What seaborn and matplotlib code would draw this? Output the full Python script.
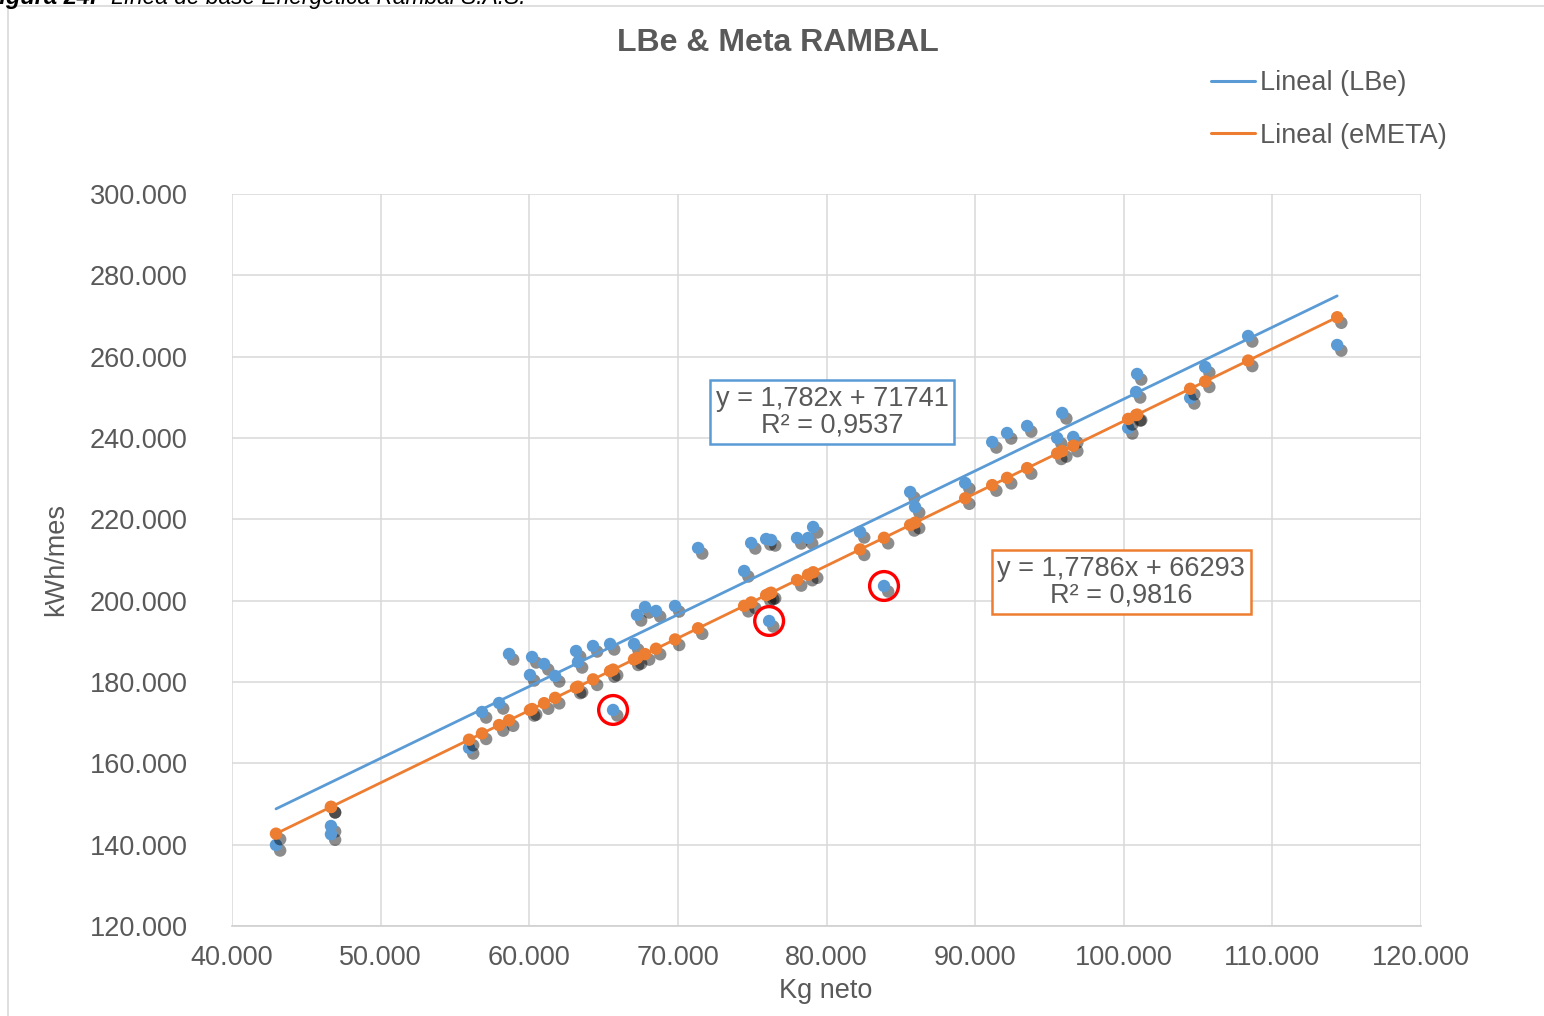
import numpy as np
import pandas as pd
import seaborn as sns
import matplotlib.pyplot as plt
import matplotlib.patheffects as pe
from matplotlib.lines import Line2D
from matplotlib.patches import Rectangle
from matplotlib.ticker import FuncFormatter, MultipleLocator

# Kg neto per month (same x for LBe and eMETA)
kg_neto = [42960, 46660, 46660, 55950, 56820, 57970, 58640, 60050, 60190, 61000,
           61740, 63150, 63280, 64290, 65440, 65640, 67050, 67250, 67790, 68530,
           69810, 71360, 74460, 74930, 75940, 76270, 76140, 78020, 78760, 79100,
           82260, 83870, 85630, 85960, 89330, 91150, 92150, 93500, 95520, 95860,
           96600, 100300, 100830, 100900, 104470, 105480, 108370, 114360]

# measured consumption (LBe)
kwh_lbe = [139920, 144590, 142560, 163770, 172620, 174830, 186890, 181720, 186150, 184430,
           181480, 187620, 184920, 188850, 189350, 173120, 189350, 196480, 198440, 197460,
           198690, 212950, 207300, 214180, 215160, 214920, 195000, 215410, 215410, 218120,
           216890, 203610, 226720, 223030, 228930, 239010, 241230, 242950, 240000, 246150,
           240250, 242460, 251310, 255740, 249840, 257460, 265080, 262870]

# target consumption (eMETA)
kwh_meta = [142700, 149280, 149280, 165810, 167350, 169400, 170590, 173100, 173350, 174790,
            176100, 178610, 178840, 180640, 182680, 183040, 185550, 185900, 186860, 188180,
            190460, 193210, 198730, 199560, 201360, 201950, 201720, 205060, 206380, 206980,
            212600, 215460, 218600, 219180, 225180, 228410, 230190, 232590, 236190, 236790,
            238110, 244690, 245630, 245750, 252100, 253900, 259040, 269690]

# highlighted points
circ_x = [65640, 76140, 83870]
circ_y = [173120, 195000, 203610]

eq_lbe = "y = 1,782x + 71741\nR² = 0,9537"
eq_meta = "y = 1,7786x + 66293\nR² = 0,9816"

BLUE = "#5b9bd5"
ORANGE = "#ed7d31"
GREY = "#595959"
FS = 19.5

df = pd.DataFrame({"kg": kg_neto, "lbe": kwh_lbe, "meta": kwh_meta})

sns.set_style("white")
plt.rcParams["font.family"] = ["Liberation Sans", "DejaVu Sans"]

fig = plt.figure(figsize=(15.44, 10.16), dpi=100)
ax = fig.add_axes([232 / 1544, 1 - 926 / 1016, 1189 / 1544, 732 / 1016])

# chart frame + cut caption
fig.patches.append(Rectangle((8 / 1544, -0.05), 1.1, 1 - 6 / 1016 + 0.05, transform=fig.transFigure,
                             fill=False, edgecolor="#d9d9d9", linewidth=1.2))
fig.text(97 / 1544, 1 - 4 / 1016, "Figura 24.", ha="right", va="baseline",
         fontsize=17, fontweight="bold", fontstyle="italic", color="black")
fig.text(111 / 1544, 1 - 4 / 1016, "Línea de base Energética Rambal S.A.S.", ha="left",
         va="baseline", fontsize=16.4, fontstyle="italic", color="black")

shadow = [pe.SimplePatchShadow(offset=(3, -4), shadow_rgbFace="black", alpha=0.45), pe.Normal()]

sns.scatterplot(data=df, x="kg", y="lbe", ax=ax, color=BLUE, s=80, edgecolor="none",
                zorder=3, legend=False)
sns.scatterplot(data=df, x="kg", y="meta", ax=ax, color=ORANGE, s=80, edgecolor="none",
                zorder=4, legend=False)
for coll in ax.collections:
    coll.set_path_effects(shadow)

sns.regplot(data=df, x="kg", y="lbe", ax=ax, scatter=False, ci=None, truncate=True,
            line_kws={"color": BLUE, "lw": 2.0, "zorder": 5})
sns.regplot(data=df, x="kg", y="meta", ax=ax, scatter=False, ci=None, truncate=True,
            line_kws={"color": ORANGE, "lw": 2.0, "zorder": 5})

ax.scatter(circ_x, circ_y, s=430, facecolors="none", edgecolors="#ff0000", linewidths=2.4, zorder=6)

ax.set_xlim(40000, 120000)
ax.set_ylim(120000, 300000)
ax.xaxis.set_major_locator(MultipleLocator(10000))
ax.yaxis.set_major_locator(MultipleLocator(20000))
fmt = FuncFormatter(lambda v, p: f"{v:,.0f}".replace(",", "."))
ax.xaxis.set_major_formatter(fmt)
ax.yaxis.set_major_formatter(fmt)
ax.tick_params(axis="both", length=0, labelsize=FS, labelcolor=GREY)
ax.tick_params(axis="y", pad=32)
ax.tick_params(axis="x", pad=14)
ax.grid(True, color="#d9d9d9", linewidth=1.1)
for s in ["top", "right", "left"]:
    ax.spines[s].set_visible(False)
ax.spines["bottom"].set_color("#d0d0d0")
ax.spines["bottom"].set_linewidth(1.2)
ax.set_axisbelow(True)

ax.set_xlabel("Kg neto", fontsize=FS, color=GREY)
ax.set_ylabel("kWh/mes", fontsize=FS, color=GREY)
ax.xaxis.set_label_coords(0.4996, -0.071)
ax.yaxis.set_label_coords(-0.137, 0.5)

fig.text(778 / 1544, 1 - 43 / 1016, "LBe & Meta RAMBAL", ha="center", va="center",
         fontsize=23, fontweight="bold", color=GREY)

ax.text(80377, 246390, eq_lbe, ha="center", va="center", fontsize=FS, color=GREY,
        linespacing=1.05, zorder=7,
        bbox=dict(boxstyle="square,pad=0.2", fc="white", ec=BLUE, lw=1.8))
ax.text(99826, 204590, eq_meta, ha="center", va="center", fontsize=FS, color=GREY,
        linespacing=1.05, zorder=7,
        bbox=dict(boxstyle="square,pad=0.2", fc="white", ec=ORANGE, lw=1.8))

handles = [Line2D([], [], color=BLUE, lw=2.2), Line2D([], [], color=ORANGE, lw=2.2)]
labels = ["Lineal (LBe)", "Lineal (eMETA)"]
fig.legend(handles, labels, loc="upper left", bbox_to_anchor=(1206 / 1544, 1 - 65 / 1016),
           frameon=False, fontsize=FS, handlelength=1.6, handletextpad=0.2,
           labelspacing=0.98, labelcolor=GREY, borderaxespad=0, borderpad=0.2)

fig.savefig("out.png", dpi=100, facecolor="white")
